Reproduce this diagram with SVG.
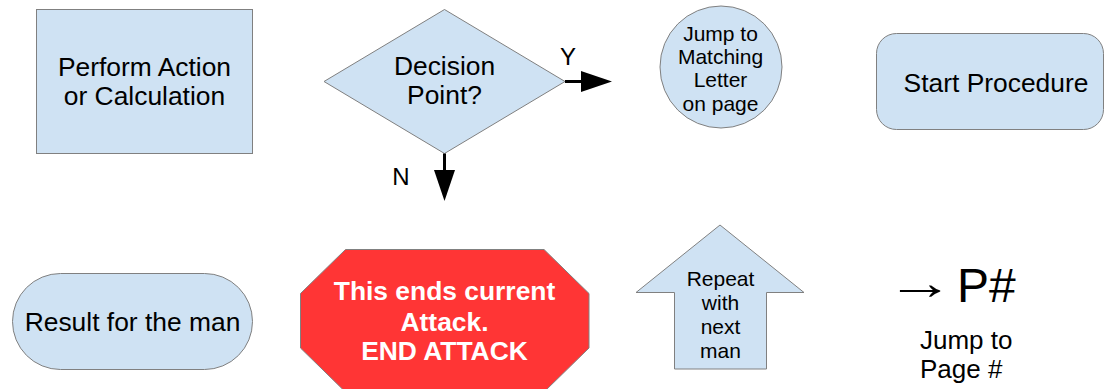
<svg xmlns="http://www.w3.org/2000/svg" width="1104" height="389" viewBox="0 0 1104 389">
  <style>
    .shape { fill: #cfe2f3; stroke: #808080; stroke-width: 1; }
    .stop { fill: #ff3535; stroke: #808080; stroke-width: 1; }
    text { font-family: "Liberation Sans", Arial, sans-serif; fill: #000; text-anchor: middle; }
    .big { font-size: 26.4px; }
    .mid { font-size: 21px; }
    .bold { font-size: 26.4px; font-weight: bold; fill: #fff; }
    .label { font-size: 24px; }
    .legend { font-size: 26px; text-anchor: start; }
    .conn { stroke: #000; stroke-width: 3; fill: none; }
  </style>
  <defs>
    <marker id="arrow" markerUnits="userSpaceOnUse" markerWidth="31" markerHeight="21" viewBox="0 0 31 21" refX="0" refY="10.5" orient="auto">
      <path d="M0,0 L31,10.5 L0,21 z" fill="#000"/>
    </marker>
  </defs>

  <!-- Process box -->
  <g id="process">
    <rect class="shape" x="36.5" y="9.5" width="216" height="144"/>
    <text class="big" x="144.5" y="76">Perform Action</text>
    <text class="big" x="144.5" y="105">or Calculation</text>
  </g>

  <!-- Decision diamond -->
  <g id="decision">
    <polygon class="shape" points="324,81.5 444.5,9.5 565,81.5 444.5,153.5"/>
    <text class="big" x="444.5" y="75">Decision</text>
    <text class="big" x="444.5" y="104">Point?</text>
  </g>

  <!-- Connector circle -->
  <g id="jump-letter">
    <circle class="shape" cx="721" cy="67" r="61"/>
    <text class="mid" x="720.5" y="40.5">Jump to</text>
    <text class="mid" x="720.5" y="64">Matching</text>
    <text class="mid" x="720.5" y="87.3">Letter</text>
    <text class="mid" x="720.5" y="110.5">on page</text>
  </g>

  <!-- Start terminator -->
  <g id="start">
    <rect class="shape" x="876.5" y="33.5" width="227" height="96" rx="20" ry="20"/>
    <text class="big" x="996" y="91.5">Start Procedure</text>
  </g>

  <!-- Result terminator -->
  <g id="result">
    <rect class="shape" x="12.5" y="273.5" width="240" height="96" rx="48" ry="48"/>
    <text class="big" x="132.5" y="331">Result for the man</text>
  </g>

  <!-- Stop octagon -->
  <g id="end-attack">
    <polygon class="stop" points="345.5,249.5 544,249.5 589,293.5 589,348 544,392 345.5,392 300.5,348 300.5,293.5"/>
    <text class="bold" x="444.5" y="300">This ends current</text>
    <text class="bold" x="444.5" y="330.5">Attack.</text>
    <text class="bold" x="444.5" y="360">END ATTACK</text>
  </g>

  <!-- Repeat up-arrow -->
  <g id="repeat">
    <polygon class="shape" points="720,225 804,292.5 766.5,292.5 766.5,369 674.5,369 674.5,292.5 636,292.5"/>
    <text class="mid" x="720.5" y="286">Repeat</text>
    <text class="mid" x="720.5" y="310">with</text>
    <text class="mid" x="720.5" y="334">next</text>
    <text class="mid" x="720.5" y="358">man</text>
  </g>

  <!-- Page jump legend -->
  <g id="page-jump">
    <text transform="translate(886,299) scale(1.42,1)" style="font-size:48px;text-anchor:start">→</text>
    <text x="957" y="302" style="font-size:48px;text-anchor:start">P#</text>
    <text class="legend" x="920" y="349">Jump to</text>
    <text class="legend" x="920" y="378">Page #</text>
  </g>

  <!-- Decision branches -->
  <g id="connectors">
    <line class="conn" x1="565" y1="81.5" x2="581" y2="81.5" marker-end="url(#arrow)"/>
    <line class="conn" x1="444.5" y1="153.5" x2="444.5" y2="170" marker-end="url(#arrow)"/>
    <text class="label" x="568" y="65">Y</text>
    <text class="label" x="401" y="185">N</text>
  </g>
</svg>
